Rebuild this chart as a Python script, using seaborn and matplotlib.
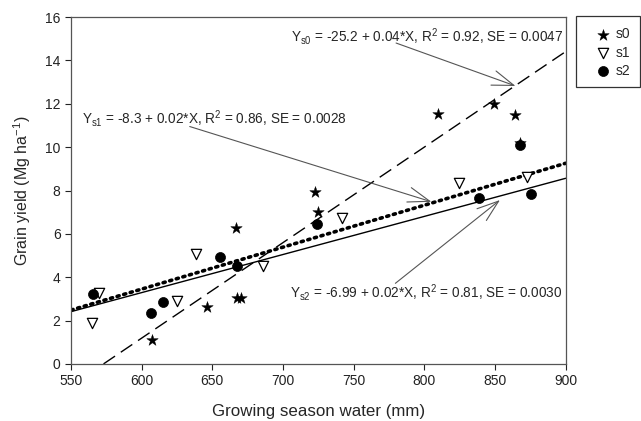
import matplotlib
matplotlib.use("Agg")
import matplotlib.pyplot as plt
from matplotlib.patches import Rectangle
import numpy as np
import pandas as pd
import seaborn as sns

# growing season water (mm) and grain yield (Mg/ha)
s0_x = [607.5, 646, 667, 667.5, 670, 722.5, 725, 810, 849, 864, 867.5]
s0_y = [1.1, 2.65, 6.27, 3.03, 3.03, 7.95, 7.0, 11.55, 12.0, 11.5, 10.2]
s1_x = [565, 570, 625, 638.5, 685.5, 741.5, 824.5, 872.5]
s1_y = [1.9, 3.29, 2.9, 5.06, 4.52, 6.72, 8.36, 8.61]
s2_x = [565.3, 606.7, 615, 655.6, 667.6, 724, 838.7, 867.5, 875.5]
s2_y = [3.21, 2.37, 2.87, 4.92, 4.52, 6.44, 7.64, 10.08, 7.82]

# regression lines as drawn (intercept, slope) and where each line starts
fit_intercept = {"s0": -25.23, "s1": -8.15, "s2": -7.25}
fit_slope = {"s0": 0.04404, "s1": 0.01934, "s2": 0.01757}
fit_xstart = {"s0": 573, "s1": 550, "s2": 550}

eq_labels = {
    "s0": r"Y$_{\mathregular{s0}}$ = -25.2 + 0.04*X, R$^{\mathregular{2}}$ = 0.92, SE = 0.0047",
    "s1": r"Y$_{\mathregular{s1}}$ = -8.3 + 0.02*X, R$^{\mathregular{2}}$ = 0.86, SE = 0.0028",
    "s2": r"Y$_{\mathregular{s2}}$ = -6.99 + 0.02*X, R$^{\mathregular{2}}$ = 0.81, SE = 0.0030",
}
# (text x, text y, arrow tip x, arrow tip y, arrow tail x, arrow tail y)
eq_pos = {
    "s0": (706, 15.1, 864.5, 12.82, 780, 14.8),
    "s1": (558, 11.3, 805, 7.48, 634, 10.95),
    "s2": (705, 3.3, 853.5, 7.56, 779.5, 3.72),
}

sns.set_theme(style="ticks")
plt.rcParams["font.family"] = ["Liberation Sans", "DejaVu Sans"]
plt.rcParams["mathtext.fontset"] = "custom"
plt.rcParams["mathtext.rm"] = "Liberation Sans"
plt.rcParams["mathtext.it"] = "Liberation Sans"

df = pd.concat([
    pd.DataFrame({"water": s0_x, "yield": s0_y, "group": "s0"}),
    pd.DataFrame({"water": s1_x, "yield": s1_y, "group": "s1"}),
    pd.DataFrame({"water": s2_x, "yield": s2_y, "group": "s2"}),
])

fig = plt.figure(figsize=(6.41, 4.21), dpi=100)
ax = fig.add_axes([0.1108, 0.1354, 0.7717, 0.8242])

line_styles = {
    "s0": dict(color="black", lw=1.0, dashes=(10, 5)),
    "s1": dict(color="black", lw=2.6, dashes=(0.6, 1.3), dash_capstyle="round"),
    "s2": dict(color="black", lw=1.0, linestyle="-"),
}
for g in ["s0", "s1", "s2"]:
    xs = np.array([fit_xstart[g], 900.0])
    ys = fit_intercept[g] + fit_slope[g] * xs
    ax.plot(xs, ys, zorder=2, **line_styles[g])

sns.scatterplot(data=df[df.group == "s0"], x="water", y="yield", marker="*",
                s=75, color="black", edgecolor="black", linewidth=0.3,
                ax=ax, zorder=3, label="s0")
sns.scatterplot(data=df[df.group == "s1"], x="water", y="yield", marker="v",
                s=55, facecolor="white", edgecolor="black", linewidth=0.9,
                ax=ax, zorder=3, label="s1")
sns.scatterplot(data=df[df.group == "s2"], x="water", y="yield", marker="o",
                s=52, color="black", edgecolor="black", linewidth=0.5,
                ax=ax, zorder=4, label="s2")

for g in ["s0", "s1", "s2"]:
    tx, ty, ax_x, ax_y, tail_x, tail_y = eq_pos[g]
    ax.text(tx, ty, eq_labels[g], fontsize=9.8, va="center", ha="left", zorder=5)
    ax.annotate("", xy=(ax_x, ax_y), xytext=(tail_x, tail_y),
                arrowprops=dict(arrowstyle="->,head_length=1.3,head_width=0.45",
                                color="#555555", lw=0.8, shrinkA=0, shrinkB=0))

ax.set_xlim(550, 900)
ax.set_ylim(0, 16)
ax.set_xticks(np.arange(550, 901, 50))
ax.set_yticks(np.arange(0, 17, 2))
ax.tick_params(direction="out", length=4, width=0.8, labelsize=10, colors="#222222")
for sp in ax.spines.values():
    sp.set_visible(True)
    sp.set_color("#555555")
    sp.set_linewidth(0.9)
ax.set_xlabel("Growing season water (mm)", fontsize=12.2, labelpad=11)
ax.set_ylabel(r"Grain yield (Mg ha$^{\mathregular{-1}}$)", fontsize=11.5, labelpad=9)

# legend sits outside the axes, its box runs to the figure edge
leg = ax.legend(loc="upper left", bbox_to_anchor=(594.5 / 641, 0.935),
                bbox_transform=fig.transFigure, frameon=False, fontsize=10,
                handletextpad=0.33, borderpad=0, labelspacing=0.3,
                handlelength=1.2, borderaxespad=0)
fig.patches.append(Rectangle((576 / 641, 1 - 87 / 421), 64 / 641, 71 / 421,
                             transform=fig.transFigure, fill=False,
                             edgecolor="#333333", linewidth=0.9))

fig.savefig("out.png", dpi=100)
